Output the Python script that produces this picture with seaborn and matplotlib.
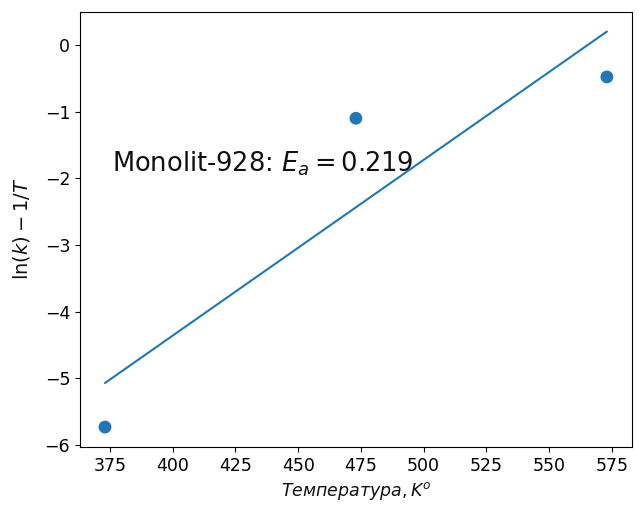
import numpy as np
import pandas as pd
import matplotlib
matplotlib.use("Agg")
import matplotlib.pyplot as plt
import seaborn as sns

# measured points (temperature K, ln(k) - 1/T)
temps = [373, 473, 573]
ln_k = [-5.73, -1.10, -0.48]

# fitted line at both ends
fit_x = [373, 573]
fit_y = [-5.07, 0.20]

label = "Monolit-928: $E_a = 0.219$"

sns.set_style("ticks")
plt.rcParams["font.family"] = ["DejaVu Sans"]

df = pd.DataFrame({"T": temps, "lnk": ln_k})
fit = pd.DataFrame({"T": fit_x, "lnk": fit_y})

fig, ax = plt.subplots(figsize=(6.39, 5.13), dpi=100)
fig.subplots_adjust(left=0.125, right=0.989, top=0.977, bottom=0.129)

sns.scatterplot(data=df, x="T", y="lnk", ax=ax, s=85, color="#1f77b4", edgecolor="none")
sns.lineplot(data=fit, x="T", y="lnk", ax=ax, color="#1f77b4", linewidth=1.5)

ax.text(375.8, -1.78, label, fontsize=18.5, va="center", ha="left", color="#111111")

ax.set_xticks(np.arange(375, 576, 25))
ax.set_yticks(np.arange(-6, 1, 1))
ax.set_xlabel("$Температура, K^o$", fontsize=12.5, color="#111111")
ax.set_ylabel(r"$\ln(k) - 1/T$", fontsize=14, color="#111111", labelpad=9)
for s in ax.spines.values():
    s.set_color("black")
ax.tick_params(colors="black", labelsize=12.5)

fig.savefig("out.png", dpi=100)
